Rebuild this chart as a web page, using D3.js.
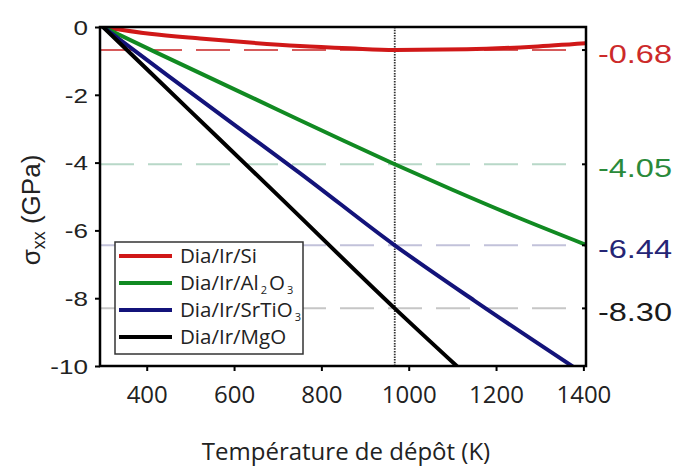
<!DOCTYPE html>
<html><head><meta charset="utf-8">
<script src="https://cdn.jsdelivr.net/npm/d3@7"></script>
<style>body{margin:0;background:#fff}svg{display:block}</style>
</head><body>
<svg id="c" width="678" height="467"></svg>
<script>
// ---- data ----
const seriesNames = ["Si", "Al2O3", "SrTiO3", "MgO"];
const siT  = [300, 407, 522, 636, 751, 865, 968, 1133, 1285, 1405];
const siV  = [0, -0.20, -0.34, -0.46, -0.56, -0.63, -0.68, -0.66, -0.58, -0.48];
const alT  = [300, 420, 550, 700, 850, 968, 1100, 1250, 1405];
const alV  = [0, -0.74, -1.53, -2.44, -3.35, -4.05, -4.80, -5.62, -6.42];
const srT  = [300, 450, 600, 750, 968, 1150, 1374];
const srV  = [0, -1.45, -2.88, -4.30, -6.44, -8.07, -10.0];
const mgT  = [300, 500, 700, 968, 1110];
const mgV  = [0, -2.48, -4.96, -8.30, -10.0];
const refValues = [-0.68, -4.05, -6.44, -8.30];
const refLabels = ["-0.68", "-4.05", "-6.44", "-8.30"];
const refT = 968;
const xTicks = [400, 600, 800, 1000, 1200, 1400];
const yTicks = [0, -2, -4, -6, -8, -10];

const colors = ["#d01818", "#118a22", "#13137a", "#000000"];
const labelColors = ["#cc2a2a", "#2a8a3a", "#252575", "#1a1a1a"];
const dashColors = ["#d65a5a", "#b8d8c8", "#c2c2da", "#c6c6c6"];

const svg = d3.select("#c");
const L = 100, R = 586, T = 27, B = 366;
const x = d3.scaleLinear().domain([293, 1406]).range([L, R]);
const y = d3.scaleLinear().domain([0, -10]).range([T, B]);

svg.append("rect").attr("width", 678).attr("height", 467).attr("fill", "#fff");

svg.append("defs").append("clipPath").attr("id", "clip")
  .append("rect").attr("x", L).attr("y", T).attr("width", R - L).attr("height", B - T);

// dashed reference lines
refValues.forEach((v, i) => {
  svg.append("line")
    .attr("x1", x(293)).attr("x2", x(1374))
    .attr("y1", y(v)).attr("y2", y(v))
    .attr("stroke", dashColors[i]).attr("stroke-width", 2)
    .attr("stroke-dasharray", "34,14");
});

// vertical dotted line
svg.append("line")
  .attr("x1", x(refT)).attr("x2", x(refT)).attr("y1", y(0)).attr("y2", y(-10))
  .attr("stroke", "#333").attr("stroke-width", 1.8).attr("stroke-dasharray", "1.5,1.2");

// curves
const series = [[siT, siV], [alT, alV], [srT, srV], [mgT, mgV]];
const line = d3.line().x(d => x(d[0])).y(d => y(d[1])).curve(d3.curveMonotoneX);
const gCurves = svg.append("g").attr("clip-path", "url(#clip)");
series.forEach((s, i) => {
  const pts = s[0].map((t, k) => [t, s[1][k]]);
  gCurves.append("path").datum(pts).attr("d", line)
    .attr("fill", "none").attr("stroke", colors[i]).attr("stroke-width", 4)
    .attr("stroke-linejoin", "round").attr("stroke-linecap", "round");
});

// frame
svg.append("rect").attr("x", L).attr("y", T).attr("width", R - L).attr("height", B - T)
  .attr("fill", "none").attr("stroke", "#000").attr("stroke-width", 2.5);

// right inner ticks
refValues.forEach(v => {
  svg.append("line").attr("x1", R - 4).attr("x2", R).attr("y1", y(v)).attr("y2", y(v))
    .attr("stroke", "#000").attr("stroke-width", 2);
});

// x axis
const gx = svg.append("g").attr("transform", `translate(0,${B})`)
  .call(d3.axisBottom(x).tickValues(xTicks).tickSize(5).tickFormat(d3.format("d")));
gx.select(".domain").remove();
gx.selectAll(".tick line").attr("stroke", "#000").attr("stroke-width", 2);
gx.selectAll(".tick text").attr("y", 37).attr("dy", 0)
  .attr("font-family", "'Open Sans', sans-serif").attr("font-size", 24).attr("fill", "#222");

// y axis
const gy = svg.append("g").attr("transform", `translate(${L},0)`)
  .call(d3.axisLeft(y).tickValues(yTicks).tickSize(5).tickFormat(d3.format("d")));
gy.select(".domain").remove();
gy.selectAll(".tick line").attr("stroke", "#000").attr("stroke-width", 2);
gy.selectAll(".tick text").attr("x", -9.5).attr("dy", "0.36em")
  .attr("transform", "scale(1.27,1)")
  .attr("font-family", "'Liberation Sans', Arial, sans-serif").attr("font-size", 20.5).attr("fill", "#222")
  .text(d => d === 0 ? "0" : String(d).replace("−", "-"));

// right labels
refLabels.forEach((t, i) => {
  svg.append("g").attr("transform", `translate(672,${y(refValues[i]) + 13}) scale(1.3,1)`)
    .append("text").attr("text-anchor", "end")
    .attr("font-family", "'Liberation Sans', Arial, sans-serif").attr("font-size", 25)
    .attr("fill", labelColors[i]).text(t);
});

// axis titles
svg.append("text").attr("x", 346).attr("y", 460).attr("text-anchor", "middle")
  .attr("font-family", "'Open Sans', sans-serif").attr("font-size", 24).attr("fill", "#222")
  .text("Température de dépôt (K)");

const yt = svg.append("text").attr("transform", "translate(40,210) rotate(-90)")
  .attr("text-anchor", "middle")
  .attr("font-family", "'Liberation Sans', Arial, sans-serif").attr("font-size", 26).attr("fill", "#222");
yt.append("tspan").text("σ");
yt.append("tspan").attr("font-size", 18).attr("dy", 5).text("xx");
yt.append("tspan").attr("dy", -5).text(" (GPa)");

// legend
const leg = svg.append("g");
leg.append("rect").attr("x", 115).attr("y", 242).attr("width", 188).attr("height", 112)
  .attr("fill", "#fff").attr("stroke", "#333").attr("stroke-width", 1.5);
const legParts = [
  [["Dia/Ir/Si", 0]],
  [["Dia/Ir/Al", 0], ["2", 1], ["O", 0], ["3", 1]],
  [["Dia/Ir/SrTiO", 0], ["3", 1]],
  [["Dia/Ir/MgO", 0]]
];
legParts.forEach((parts, i) => {
  const yy = 256 + i * 27;
  leg.append("line").attr("x1", 119).attr("x2", 172).attr("y1", yy).attr("y2", yy)
    .attr("stroke", colors[i]).attr("stroke-width", 4);
  let cx = 180;
  parts.forEach(([s, sub]) => {
    const t = leg.append("text").attr("x", cx).attr("y", yy + 7 + (sub ? 4 : 0))
      .attr("font-family", "'Open Sans', sans-serif").attr("font-size", sub ? 11 : 20.5)
      .attr("fill", "#222").text(s);
    cx += t.node().getComputedTextLength() + 2;
  });
});
</script>
</body></html>
